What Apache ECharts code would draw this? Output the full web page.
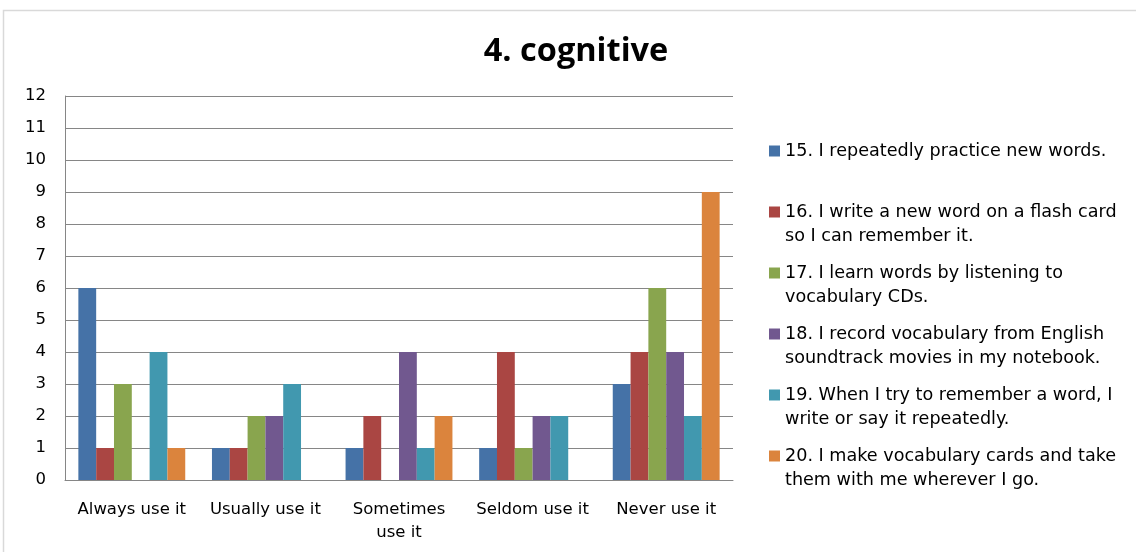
<!DOCTYPE html>
<html>
<head>
<meta charset="utf-8">
<script src="https://cdn.jsdelivr.net/npm/echarts@6/dist/echarts.min.js"></script>
<style>
html,body{margin:0;padding:0;background:#fff;}
#chart{width:1136px;height:552px;}
</style>
</head>
<body>
<div id="chart"></div>
<script>
const categories = ["Always use it", "Usually use it", "Sometimes use it", "Seldom use it", "Never use it"];
const seriesNames = [
  "15. I repeatedly practice new words.",
  "16. I write a new word on a flash card\nso I can remember it.",
  "17. I learn words by listening to\nvocabulary CDs.",
  "18. I record vocabulary from English\nsoundtrack movies in my notebook.",
  "19. When I try to remember a word, I\nwrite or say it repeatedly.",
  "20. I make vocabulary cards and take\nthem with me wherever I go."
];
const s15 = [6, 1, 1, 1, 3];
const s16 = [1, 1, 2, 4, 4];
const s17 = [3, 2, 0, 1, 6];
const s18 = [0, 2, 4, 2, 4];
const s19 = [4, 3, 1, 2, 2];
const s20 = [1, 0, 2, 0, 9];
const yTicks = [0,1,2,3,4,5,6,7,8,9,10,11,12];

const values = [s15, s16, s17, s18, s19, s20];
const colors = ["#4572A7", "#AA4643", "#89A54E", "#71588F", "#4198AF", "#DB843D"];
const FONT = "'DejaVu Sans', sans-serif";

const legendTops = [146, 207, 268, 329, 390, 451];
const LH = 24;
const legends = seriesNames.map((n, i) => {
  const two = n.indexOf("\n") >= 0;
  return {
    orient: 'vertical',
    left: 764,
    top: two ? legendTops[i] - LH * 1.5 : legendTops[i] - LH / 2,
    itemWidth: 11,
    itemHeight: 11,
    icon: 'rect',
    data: [n],
    selectedMode: false,
    formatter: (name) => name.indexOf("\n") >= 0 ? " \n" + name : name,
    textStyle: {
      fontFamily: FONT,
      fontSize: 17.6,
      color: '#000',
      lineHeight: LH
    }
  };
});

const chart = echarts.init(document.getElementById('chart'), null, {renderer: 'canvas'});
chart.setOption({
  animation: false,
  color: colors,
  title: {
    text: '4. cognitive',
    left: 571,
    textAlign: 'center',
    top: 30,
    textStyle: {fontFamily: "'Open Sans', sans-serif", fontWeight: 'bold', fontSize: 32.5, color: '#000'}
  },
  graphic: [{
    type: 'rect',
    shape: {x: 3.5, y: 10.5, width: 1140, height: 560},
    style: {fill: 'none', stroke: '#d9d9d9', lineWidth: 1.5},
    silent: true
  }],
  legend: legends,
  grid: {left: 65, right: 403, top: 96, bottom: 72, containLabel: false},
  xAxis: {
    type: 'category',
    data: categories,
    axisLine: {show: true, lineStyle: {color: '#868686', width: 1}},
    axisTick: {show: false},
    axisLabel: {
      interval: 0,
      fontFamily: FONT,
      fontSize: 16.5,
      color: '#000',
      margin: 18,
      lineHeight: 23,
      formatter: (v) => v.length > 14 ? v.replace(' ', '\n') : v
    }
  },
  yAxis: {
    type: 'value',
    min: yTicks[0],
    max: yTicks[yTicks.length - 1],
    interval: 1,
    axisLine: {show: true, lineStyle: {color: '#868686', width: 1}},
    axisTick: {show: false},
    splitLine: {show: true, lineStyle: {color: '#868686', width: 1}},
    axisLabel: {fontFamily: FONT, fontSize: 16.5, color: '#000', margin: 19}
  },
  series: seriesNames.map((n, i) => ({
    name: n,
    type: 'bar',
    data: values[i],
    barGap: '0%',
    barCategoryGap: '20%',
    itemStyle: {color: colors[i]}
  }))
});
</script>
</body>
</html>
